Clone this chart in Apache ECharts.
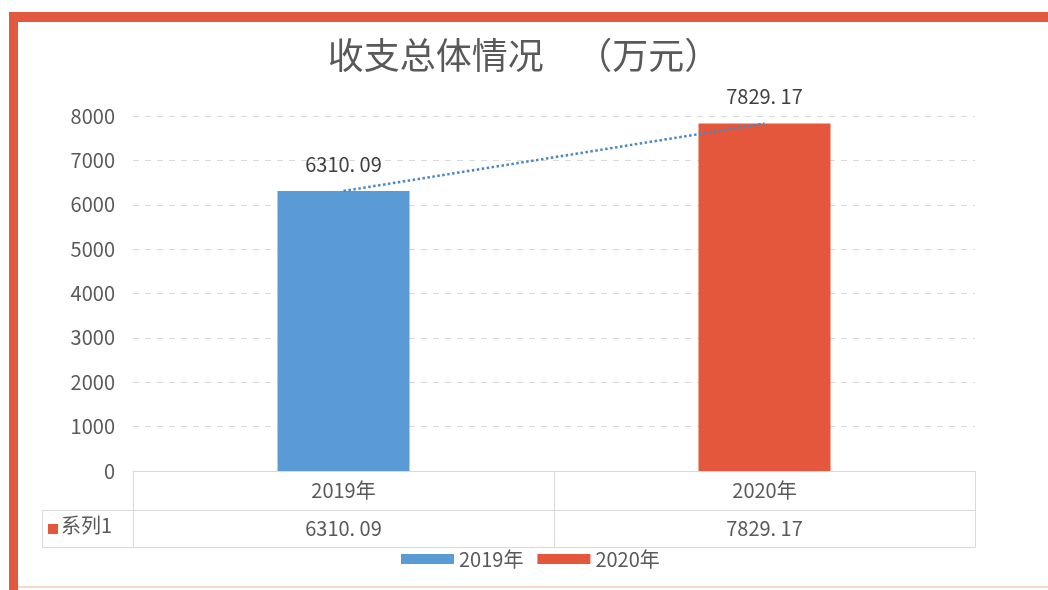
<!DOCTYPE html>
<html lang="zh">
<head>
    <meta charset="UTF-8">
    <title>收支总体情况</title>
    <script src="https://cdn.jsdelivr.net/npm/echarts@6/dist/echarts.min.js"></script>
    <style>
        html, body { margin: 0; padding: 0; background: #fff; }
        #chart { width: 1048px; height: 590px; }
    </style>
</head>
<body>
<div id="chart"></div>
<script>
    // data
    var years = ['2019年', '2020年'];
    var values = [6310.09, 7829.17];
    var yTicks = [0, 1000, 2000, 3000, 4000, 5000, 6000, 7000, 8000];
    var seriesName = '系列1';

    var colors = ['#5B9BD5', '#E5573C'];
    var font = '"Noto Sans CJK SC", "Microsoft YaHei", sans-serif';

    function fmt(v) {
        return v.toFixed(2).replace('.', '. ');
    }

    var chart = echarts.init(document.getElementById('chart'));

    // one bar series per year so the legend shows each year with its colour
    var barSeries = years.map(function (y, i) {
        return {
            name: y,
            type: 'bar',
            barWidth: 132,
            barGap: '-100%',
            itemStyle: { color: colors[i] },
            label: {
                show: true,
                position: 'top',
                distance: 17,
                fontSize: 20,
                color: '#404040',
                fontFamily: font,
                formatter: function (p) { return fmt(p.value); }
            },
            data: values.map(function (v, j) { return j === i ? v : null; })
        };
    });

    chart.setOption({
        backgroundColor: '#fff',
        textStyle: { fontFamily: font },
        title: {
            text: '收支总体情况    （万元）',
            left: 'center',
            top: 32,
            textStyle: { fontSize: 36, fontWeight: 'normal', color: '#595959', fontFamily: font }
        },
        legend: {
            data: years,
            left: 396,
            top: 544,
            icon: 'rect',
            itemWidth: 53,
            itemHeight: 10,
            itemGap: 14,
            textStyle: { fontSize: 20, color: '#595959', fontFamily: font }
        },
        grid: { left: 133, right: 73, top: 116, bottom: 119 },
        xAxis: [
            {
                type: 'category',
                data: years,
                position: 'bottom',
                axisLine: { lineStyle: { color: '#D9D9D9' } },
                axisTick: { show: true, interval: 0, length: 76, lineStyle: { color: '#D9D9D9' } },
                axisLabel: { margin: 9, fontSize: 20, color: '#595959', fontFamily: font }
            },
            {
                type: 'category',
                data: values.map(fmt),
                position: 'bottom',
                offset: 39,
                axisLine: { lineStyle: { color: '#D9D9D9' } },
                axisTick: { show: false },
                axisLabel: { margin: 8, fontSize: 20, color: '#595959', fontFamily: font }
            },
            {
                type: 'category',
                data: years,
                position: 'bottom',
                offset: 76,
                axisLine: { lineStyle: { color: '#D9D9D9' } },
                axisTick: { show: false },
                axisLabel: { show: false }
            }
        ],
        yAxis: {
            type: 'value',
            min: yTicks[0],
            max: yTicks[yTicks.length - 1],
            interval: yTicks[1] - yTicks[0],
            axisLine: { show: false },
            axisTick: { show: false },
            axisLabel: {
                margin: 18, fontSize: 20, color: '#595959', fontFamily: font,
                formatter: function (v) { return String(v); }
            },
            splitLine: { lineStyle: { color: '#D9D9D9', type: [6, 6] } }
        },
        series: barSeries.concat([{
            name: seriesName,
            type: 'line',
            data: values,
            symbol: 'none',
            z: 5,
            lineStyle: { color: '#4A86C5', width: 2.5, type: 'dotted' }
        }]),
        graphic: [
            // frame
            { type: 'rect', shape: { x: 9, y: 12, width: 1039, height: 10 }, style: { fill: '#E2593F' } },
            { type: 'rect', shape: { x: 9, y: 12, width: 9, height: 578 }, style: { fill: '#E2593F' } },
            { type: 'rect', shape: { x: 18, y: 586, width: 1030, height: 2 }, style: { fill: '#F6D8CC' } },
            // data table left cell
            { type: 'line', shape: { x1: 42, y1: 510.5, x2: 133, y2: 510.5 }, style: { stroke: '#D9D9D9', lineWidth: 1 } },
            { type: 'line', shape: { x1: 42, y1: 547.5, x2: 133, y2: 547.5 }, style: { stroke: '#D9D9D9', lineWidth: 1 } },
            { type: 'line', shape: { x1: 42.5, y1: 510, x2: 42.5, y2: 548 }, style: { stroke: '#D9D9D9', lineWidth: 1 } },
            { type: 'rect', shape: { x: 48, y: 524, width: 10, height: 10 }, style: { fill: colors[1] } },
            { type: 'text', left: 61, top: 515, style: { text: seriesName, fill: '#595959', font: '20px ' + font } }
        ]
    });
</script>
</body>
</html>
